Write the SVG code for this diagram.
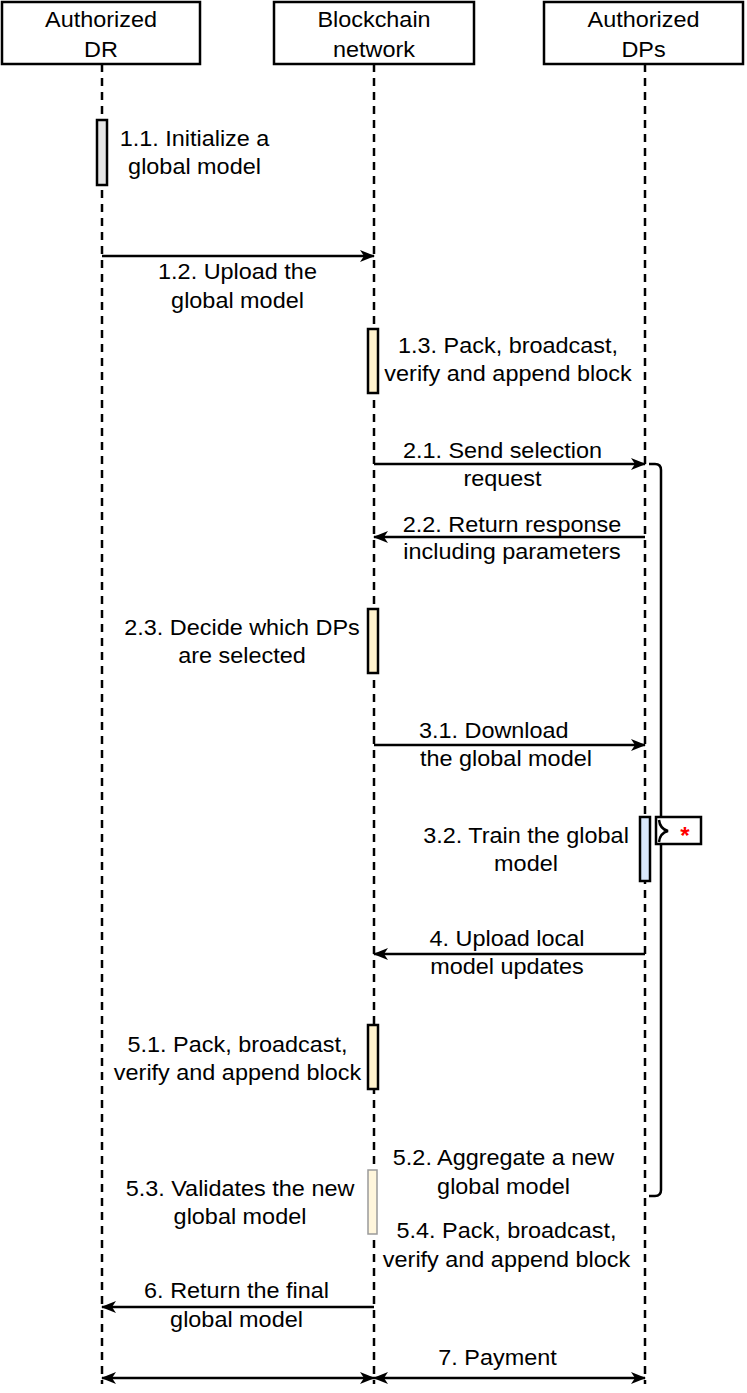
<svg xmlns="http://www.w3.org/2000/svg" width="747" height="1393" viewBox="0 0 747 1393">
<style>
.t{font-family:"Liberation Sans",Arial,sans-serif;font-size:21.5px;text-anchor:middle;fill:#000}
.box{fill:#fff;stroke:#000;stroke-width:2.5}
.life{stroke:#000;stroke-width:2.5;stroke-dasharray:8 6;fill:none}
.msg{stroke:#000;stroke-width:2.5;fill:none}
.bar{stroke:#000;stroke-width:2.5}
</style>
<defs>
<marker id="ah" viewBox="0 0 15 12" refX="14" refY="6" markerWidth="15" markerHeight="12" markerUnits="userSpaceOnUse" orient="auto">
<path d="M0,0 L15,6 L0,12 L4,6 Z" fill="#000"/>
</marker>
<marker id="as" viewBox="0 0 15 12" refX="1" refY="6" markerWidth="15" markerHeight="12" markerUnits="userSpaceOnUse" orient="auto">
<path d="M15,0 L0,6 L15,12 L11,6 Z" fill="#000"/>
</marker>
</defs>
<rect width="747" height="1393" fill="#fff"/>

<g id="lifelines">
<line class="life" x1="102" y1="64" x2="102" y2="1384"/>
<line class="life" x1="374" y1="64" x2="374" y2="1384"/>
<line class="life" x1="645" y1="64" x2="645" y2="1384"/>
</g>

<g id="dr">
<rect class="box" x="2" y="2" width="198" height="62"/>
<text class="t" transform="matrix(1.09 0 0 1 101 0)"><tspan x="0" y="27">Authorized</tspan><tspan x="0" y="57">DR</tspan></text>
</g>
<g id="blockchain">
<rect class="box" x="274" y="2" width="200" height="62"/>
<text class="t" transform="matrix(1.09 0 0 1 374 0)"><tspan x="0" y="27">Blockchain</tspan><tspan x="0" y="57">network</tspan></text>
</g>
<g id="dps">
<rect class="box" x="544" y="2" width="199" height="62"/>
<text class="t" transform="matrix(1.09 0 0 1 643.5 0)"><tspan x="0" y="27">Authorized</tspan><tspan x="0" y="57">DPs</tspan></text>
</g>

<g id="bars">
<rect class="bar" x="97" y="120" width="10" height="65" fill="#e6e6e6"/>
<rect class="bar" x="368" y="329" width="10" height="64" fill="#fff2cc"/>
<rect class="bar" x="368" y="609" width="10" height="64" fill="#fff2cc"/>
<rect class="bar" x="640" y="817" width="10" height="64" fill="#dae8fc"/>
<rect class="bar" x="368" y="1025" width="10" height="64" fill="#fff2cc"/>
<rect x="367" y="1169" width="11" height="66" fill="#fff"/>
<rect x="368" y="1170" width="9" height="64" fill="#fff6dc" stroke="#9a9a9a" stroke-width="1.5"/>
</g>

<g id="connectors">
<path class="msg" d="M102 256 H374" marker-end="url(#ah)"/>
<path class="msg" d="M374 464 H645" marker-end="url(#ah)"/>
<path class="msg" d="M645 537 H374" marker-end="url(#ah)"/>
<path class="msg" d="M374 745 H645" marker-end="url(#ah)"/>
<path class="msg" d="M645 954 H374" marker-end="url(#ah)"/>
<path class="msg" d="M374 1307 H102" marker-end="url(#ah)"/>
<path class="msg" d="M102 1378 H374" marker-start="url(#as)" marker-end="url(#ah)"/>
<path class="msg" d="M374 1378 H645" marker-start="url(#as)" marker-end="url(#ah)"/>
<path class="msg" d="M649 464 H655 Q661 464 661 470 V1190 Q661 1196 655 1196 H649"/>
</g>

<g id="loop-note">
<rect class="box" x="656" y="817" width="45" height="27"/>
<path class="msg" d="M659 820 Q660 829 668 831 Q660 833 659 842"/>
<text x="685" y="844" style="font-family:'Liberation Sans',Arial,sans-serif;font-size:24px;font-weight:bold;fill:#ff0000;text-anchor:middle">*</text>
</g>

<g id="labels">
<g id="l11"><text class="t" transform="matrix(1.09 0 0 1 194.5 0)"><tspan x="0" y="146">1.1. Initialize a</tspan><tspan x="0" y="174">global model</tspan></text></g>
<g id="l12"><text class="t" transform="matrix(1.09 0 0 1 237.5 0)"><tspan x="0" y="279">1.2. Upload the</tspan><tspan x="0" y="308">global model</tspan></text></g>
<g id="l13"><text class="t" transform="matrix(1.09 0 0 1 508 0)"><tspan x="0" y="353">1.3. Pack, broadcast,</tspan><tspan x="0" y="381">verify and append block</tspan></text></g>
<g id="l21"><text class="t" transform="matrix(1.09 0 0 1 502.5 0)"><tspan x="0" y="458">2.1. Send selection</tspan><tspan x="0" y="486">request</tspan></text></g>
<g id="l22"><text class="t" transform="matrix(1.09 0 0 1 512 0)"><tspan x="0" y="532">2.2. Return response</tspan><tspan x="0" y="559">including parameters</tspan></text></g>
<g id="l23"><text class="t" transform="matrix(1.09 0 0 1 242 0)"><tspan x="0" y="635">2.3. Decide which DPs</tspan><tspan x="0" y="663">are selected</tspan></text></g>
<g id="l31"><text class="t" transform="matrix(1.09 0 0 1 0 0)"><tspan x="453" y="738">3.1. Download</tspan><tspan x="464.2" y="766">the global model</tspan></text></g>
<g id="l32"><text class="t" transform="matrix(1.09 0 0 1 526 0)"><tspan x="0" y="843">3.2. Train the global</tspan><tspan x="0" y="871">model</tspan></text></g>
<g id="l4"><text class="t" transform="matrix(1.09 0 0 1 507 0)"><tspan x="0" y="946">4. Upload local</tspan><tspan x="0" y="974">model updates</tspan></text></g>
<g id="l51"><text class="t" transform="matrix(1.09 0 0 1 237.5 0)"><tspan x="0" y="1052">5.1. Pack, broadcast,</tspan><tspan x="0" y="1080">verify and append block</tspan></text></g>
<g id="l52"><text class="t" transform="matrix(1.09 0 0 1 503.5 0)"><tspan x="0" y="1165">5.2. Aggregate a new</tspan><tspan x="0" y="1194">global model</tspan></text></g>
<g id="l53"><text class="t" transform="matrix(1.09 0 0 1 240 0)"><tspan x="0" y="1196">5.3. Validates the new</tspan><tspan x="0" y="1224">global model</tspan></text></g>
<g id="l54"><text class="t" transform="matrix(1.09 0 0 1 506.5 0)"><tspan x="0" y="1238">5.4. Pack, broadcast,</tspan><tspan x="0" y="1267">verify and append block</tspan></text></g>
<g id="l6"><text class="t" transform="matrix(1.09 0 0 1 236.5 0)"><tspan x="0" y="1298">6. Return the final</tspan><tspan x="0" y="1327">global model</tspan></text></g>
<g id="l7"><text class="t" transform="matrix(1.09 0 0 1 497.5 0)"><tspan x="0" y="1365">7. Payment</tspan></text></g>
</g>
</svg>
